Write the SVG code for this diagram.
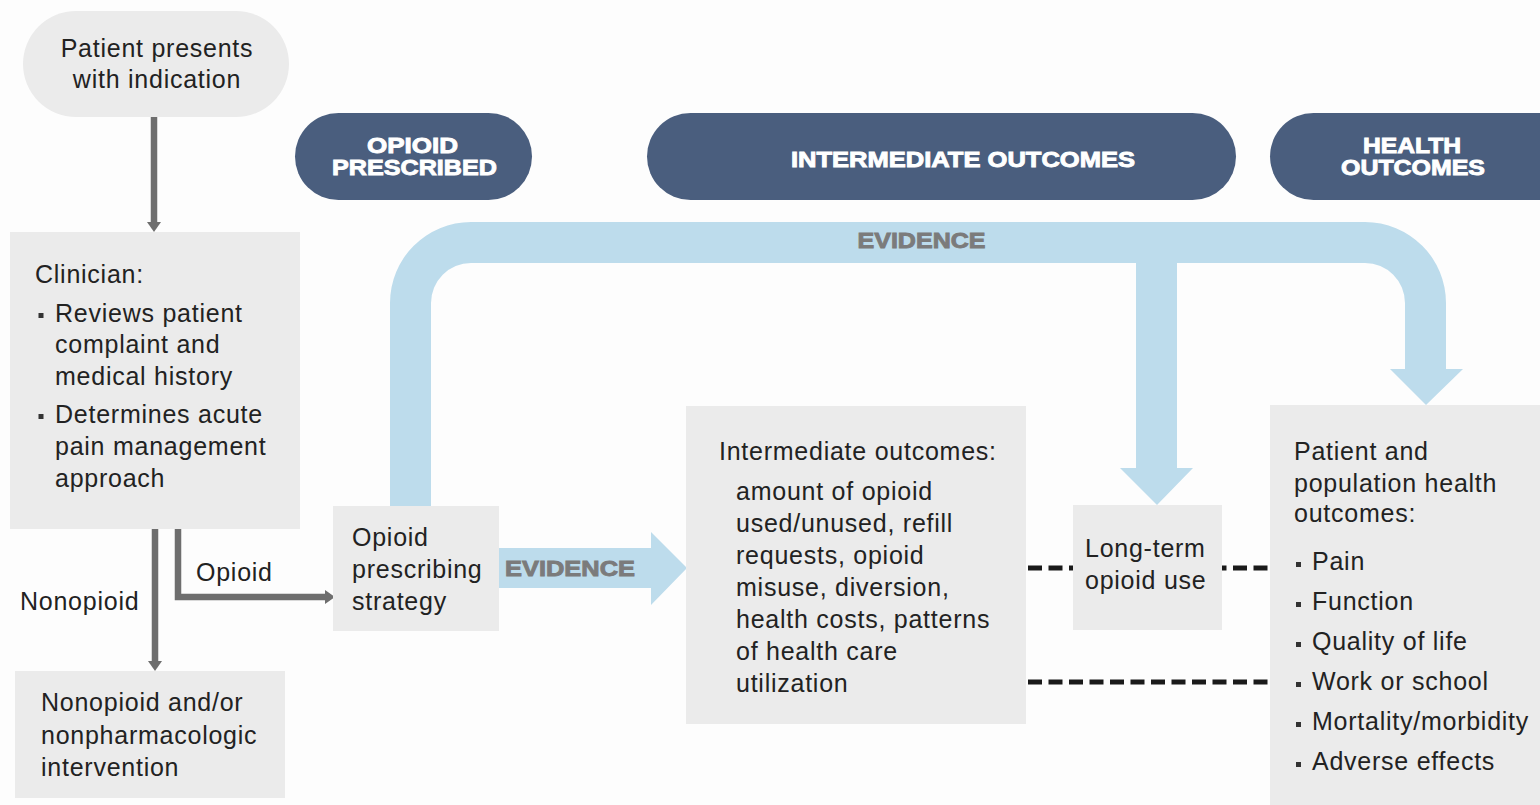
<svg xmlns="http://www.w3.org/2000/svg" width="1540" height="805" viewBox="0 0 1540 805">
<defs>
<style>
.box{fill:#ebebeb}
.pill{fill:#4a5e7e}
.t{font-family:"Liberation Sans",Arial,sans-serif;font-size:25px;fill:#222;letter-spacing:0.75px}
.h{font-family:"Liberation Sans",Arial,sans-serif;font-size:22px;font-weight:bold;fill:#fff;stroke:#fff;stroke-width:0.9px}
.ev{font-family:"Liberation Sans",Arial,sans-serif;font-size:22px;font-weight:bold;fill:#7b7b7b;stroke:#7b7b7b;stroke-width:0.9px}
.conn{fill:none;stroke:#6e6e6e;stroke-width:6.5}
.dash{fill:none;stroke:#1a1a1a;stroke-width:5;stroke-dasharray:14 6.5}
.blue{fill:#bddcec}
.bul{fill:#333}
</style>
<marker id="ah" viewBox="0 0 10 14" refX="0" refY="7" markerWidth="10" markerHeight="14" markerUnits="userSpaceOnUse" orient="auto">
<path d="M0,0 L10,7 L0,14 Z" fill="#6e6e6e"/>
</marker>
</defs>
<rect width="1540" height="805" fill="#fdfdfd"/>

<g id="connectors">
<path class="conn" d="M154,117 V222" marker-end="url(#ah)"/>
<path class="conn" d="M155,529 V661" marker-end="url(#ah)"/>
<path class="conn" d="M178,529 V597 H325" marker-end="url(#ah)"/>
<path class="dash" d="M1028,568 H1270"/>
<path class="dash" d="M1028,682 H1270"/>
<path class="blue" d="M498,548 H651 V532 L687,568 L651,605 V588 H498 Z"/>
<text class="ev" x="570" y="575.5" text-anchor="middle" textLength="130" lengthAdjust="spacingAndGlyphs">EVIDENCE</text>
<path class="blue" d="M390,506 V303 A81,81 0 0 1 471,222 H1365 A81,81 0 0 1 1446,303 V369 H1463 L1426,405 L1390,369 H1405 V303 A40,40 0 0 0 1365,263 H1177 V468 H1193 L1157,505 L1120,468 H1136 V263 H471 A40,40 0 0 0 431,303 V506 Z"/>
<text class="ev" x="921.5" y="248" text-anchor="middle" textLength="128" lengthAdjust="spacingAndGlyphs">EVIDENCE</text>
<text class="t" x="196" y="581">Opioid</text>
<text class="t" x="20" y="610">Nonopioid</text>
</g>

<g id="header-opioid-prescribed">
<rect class="pill" x="295" y="113" width="237" height="87" rx="43.5"/>
<text class="h" x="412.5" y="153" text-anchor="middle" textLength="91" lengthAdjust="spacingAndGlyphs">OPIOID</text>
<text class="h" x="414.5" y="175" text-anchor="middle" textLength="165" lengthAdjust="spacingAndGlyphs">PRESCRIBED</text>
</g>
<g id="header-intermediate">
<rect class="pill" x="647" y="113" width="589" height="87" rx="43.5"/>
<text class="h" x="963" y="166.5" text-anchor="middle" textLength="344" lengthAdjust="spacingAndGlyphs">INTERMEDIATE OUTCOMES</text>
</g>
<g id="header-health">
<rect class="pill" x="1270" y="113" width="320" height="87" rx="43.5"/>
<text class="h" x="1412" y="152.5" text-anchor="middle" textLength="98" lengthAdjust="spacingAndGlyphs">HEALTH</text>
<text class="h" x="1413" y="175" text-anchor="middle" textLength="144" lengthAdjust="spacingAndGlyphs">OUTCOMES</text>
</g>

<g id="patient">
<rect class="box" x="23" y="11" width="266" height="106" rx="53"/>
<text class="t" x="157" y="57" text-anchor="middle">Patient presents</text>
<text class="t" x="157" y="88" text-anchor="middle">with indication</text>
</g>

<g id="clinician">
<rect class="box" x="10" y="232" width="290" height="297"/>
<text class="t" x="35" y="283">Clinician:</text>
<rect class="bul" x="38.5" y="313" width="5" height="5"/>
<text class="t" x="55" y="322">Reviews patient</text>
<text class="t" x="55" y="353">complaint and</text>
<text class="t" x="55" y="385">medical history</text>
<rect class="bul" x="38.5" y="414" width="5" height="5"/>
<text class="t" x="55" y="423">Determines acute</text>
<text class="t" x="55" y="455">pain management</text>
<text class="t" x="55" y="487">approach</text>
</g>

<g id="nonopioid">
<rect class="box" x="15" y="671" width="270" height="127"/>
<text class="t" x="41" y="711">Nonopioid and/or</text>
<text class="t" x="41" y="744">nonpharmacologic</text>
<text class="t" x="41" y="776">intervention</text>
</g>

<g id="strategy">
<rect class="box" x="333" y="506" width="166" height="125"/>
<text class="t" x="352" y="546">Opioid</text>
<text class="t" x="352" y="578">prescribing</text>
<text class="t" x="352" y="610">strategy</text>
</g>

<g id="intermediate">
<rect class="box" x="686" y="406" width="340" height="318"/>
<text class="t" x="719" y="460">Intermediate outcomes:</text>
<text class="t" x="736" y="500">amount of opioid</text>
<text class="t" x="736" y="532">used/unused, refill</text>
<text class="t" x="736" y="564">requests, opioid</text>
<text class="t" x="736" y="596">misuse, diversion,</text>
<text class="t" x="736" y="628">health costs, patterns</text>
<text class="t" x="736" y="660">of health care</text>
<text class="t" x="736" y="692">utilization</text>
</g>

<g id="longterm">
<rect class="box" x="1073" y="505" width="149" height="125"/>
<text class="t" x="1085" y="557">Long-term</text>
<text class="t" x="1085" y="589">opioid use</text>
</g>

<g id="health">
<rect class="box" x="1270" y="405" width="280" height="400"/>
<text class="t" x="1294" y="460">Patient and</text>
<text class="t" x="1294" y="492">population health</text>
<text class="t" x="1294" y="522">outcomes:</text>
<rect class="bul" x="1296" y="562" width="5" height="5"/>
<text class="t" x="1312" y="570">Pain</text>
<rect class="bul" x="1296" y="602" width="5" height="5"/>
<text class="t" x="1312" y="610">Function</text>
<rect class="bul" x="1296" y="642" width="5" height="5"/>
<text class="t" x="1312" y="650">Quality of life</text>
<rect class="bul" x="1296" y="682" width="5" height="5"/>
<text class="t" x="1312" y="690">Work or school</text>
<rect class="bul" x="1296" y="722" width="5" height="5"/>
<text class="t" x="1312" y="730">Mortality/morbidity</text>
<rect class="bul" x="1296" y="762" width="5" height="5"/>
<text class="t" x="1312" y="770">Adverse effects</text>
</g>
</svg>
